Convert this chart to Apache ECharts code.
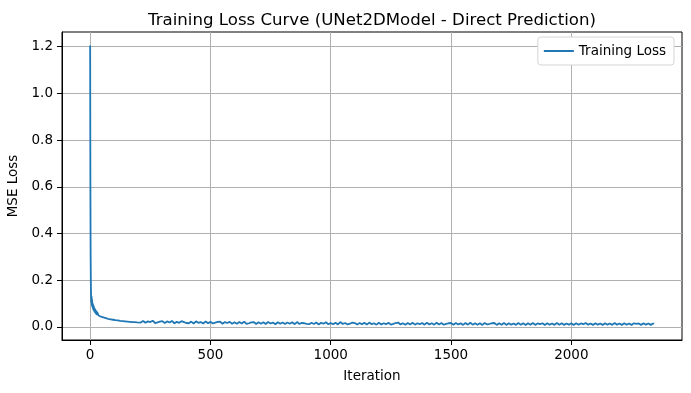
<!DOCTYPE html>
<html>
<head>
<meta charset="utf-8">
<script src="https://cdn.jsdelivr.net/npm/echarts@6/dist/echarts.min.js"></script>
<style>html,body{margin:0;padding:0;background:#fff;}#c{width:691px;height:393px;}</style>
</head>
<body>
<div id="c"></div>
<script>
// Loss values, in three segments with their iteration start/step
const earlyStart = 0, earlyStep = 1;
const lossEarly = [1.205,0.62,0.31,0.18,0.125,0.105,0.132,0.092,0.118,0.086,
  0.104,0.079,0.097,0.074,0.093,0.070,0.086,0.066,0.081,0.063,
  0.078,0.060,0.074,0.058,0.071,0.055,0.068,0.053,0.066,0.051];
const midStart = 30, midStep = 5;
const lossMid = [0.062,0.049,0.057,0.044,0.052,0.041,0.049,0.038,0.046,0.035,
  0.043,0.033,0.041,0.031,0.038,0.029,0.037,0.028,0.035,0.026,
  0.033,0.025,0.032,0.024,0.031,0.023,0.030,0.022,0.029,0.021,
  0.028,0.021,0.027,0.020,0.026];
const lateStart = 210, lateStep = 10;
const lossLate = [
  0.019,0.026,0.018,0.024,0.021,0.027,0.017,0.020,0.023,0.025,
  0.017,0.024,0.019,0.026,0.016,0.022,0.018,0.025,0.021,0.017,
  0.016,0.023,0.015,0.024,0.018,0.021,0.015,0.024,0.016,0.022,
  0.015,0.019,0.022,0.023,0.014,0.021,0.017,0.022,0.014,0.020,
  0.014,0.021,0.015,0.023,0.013,0.016,0.020,0.021,0.013,0.020,
  0.014,0.020,0.013,0.021,0.015,0.019,0.012,0.020,0.014,0.019,
  0.013,0.019,0.014,0.020,0.012,0.021,0.013,0.018,0.016,0.013,
  0.012,0.018,0.013,0.019,0.011,0.018,0.014,0.020,0.012,0.017,
  0.012,0.018,0.011,0.021,0.013,0.017,0.011,0.014,0.019,0.017,
  0.011,0.017,0.012,0.018,0.010,0.019,0.012,0.016,0.010,0.018,
  0.011,0.016,0.012,0.018,0.010,0.013,0.017,0.019,0.011,0.016,
  0.010,0.017,0.011,0.018,0.010,0.016,0.012,0.017,0.010,0.018,
  0.011,0.016,0.010,0.018,0.011,0.017,0.010,0.013,0.016,0.017,
  0.010,0.017,0.011,0.016,0.009,0.017,0.010,0.018,0.010,0.016,
  0.010,0.016,0.009,0.017,0.011,0.013,0.016,0.017,0.009,0.016,
  0.010,0.017,0.009,0.016,0.010,0.015,0.009,0.017,0.010,0.016,
  0.009,0.016,0.010,0.017,0.009,0.015,0.012,0.016,0.009,0.016,
  0.010,0.015,0.009,0.017,0.010,0.016,0.009,0.015,0.010,0.016,
  0.009,0.016,0.010,0.015,0.012,0.017,0.010,0.015,0.009,0.016,
  0.010,0.015,0.009,0.016,0.010,0.015,0.009,0.017,0.010,0.015,
  0.009,0.016,0.010,0.015,0.009,0.016,0.013,0.015,0.009,0.016,
  0.010,0.015,0.009,0.015];
const lastIter = 2343, lastLoss = 0.012;

const xTicks = [0, 500, 1000, 1500, 2000];
const yTicks = [0.0, 0.2, 0.4, 0.6, 0.8, 1.0, 1.2];
const xRange = [-117, 2460];
const yRange = [-0.0557, 1.263];

const data = [];
lossEarly.forEach((v, i) => data.push([earlyStart + i * earlyStep, v]));
lossMid.forEach((v, i) => data.push([midStart + i * midStep, v]));
lossLate.forEach((v, i) => data.push([lateStart + i * lateStep, v]));
data.push([lastIter, lastLoss]);

const FONT = 'DejaVu Sans';
const chart = echarts.init(document.getElementById('c'), null, {renderer: 'canvas'});
chart.setOption({
  animation: false,
  backgroundColor: '#fff',
  title: {
    text: 'Training Loss Curve (UNet2DModel - Direct Prediction)',
    left: 367, textAlign: 'center', top: 7,
    textStyle: {fontFamily: FONT, fontSize: 16.6, fontWeight: 'normal', color: '#000'}
  },
  legend: {
    right: 17, top: 37,
    data: [{name: 'Training Loss', icon: 'rect'}],
    itemWidth: 30, itemHeight: 2, itemGap: 10,
    padding: [7, 8, 7, 6],
    backgroundColor: '#fff',
    borderColor: '#d5d5d5', borderWidth: 1, borderRadius: 3,
    textStyle: {fontFamily: FONT, fontSize: 13.5, color: '#000'}
  },
  grid: {left: 62, right: 9, top: 32, bottom: 53, containLabel: false,
         outerBoundsMode: 'none',
         show: true, borderColor: '#000', borderWidth: 1},
  xAxis: {
    type: 'value', min: xRange[0], max: xRange[1],
    name: 'Iteration', nameLocation: 'middle', nameGap: 29,
    nameTextStyle: {fontFamily: FONT, fontSize: 13.5, color: '#000'},
    axisLine: {show: true, onZero: false, lineStyle: {color: '#000', width: 1}},
    axisTick: {show: true, inside: false, length: 5, lineStyle: {color: '#000'}, customValues: xTicks},
    axisLabel: {fontFamily: FONT, fontSize: 13.5, color: '#000', margin: 8,
                customValues: xTicks, formatter: v => String(v)},
    splitLine: {show: true, lineStyle: {color: '#b0b0b0', width: 1}}
  },
  yAxis: {
    type: 'value', min: yRange[0], max: yRange[1],
    name: 'MSE Loss', nameLocation: 'middle', nameGap: 40,
    nameTextStyle: {fontFamily: FONT, fontSize: 13.5, color: '#000'},
    axisLine: {show: true, onZero: false, lineStyle: {color: '#000', width: 1}},
    axisTick: {show: true, inside: false, length: 5, lineStyle: {color: '#000'}, customValues: yTicks},
    axisLabel: {fontFamily: FONT, fontSize: 13.5, color: '#000', margin: 9,
                customValues: yTicks, formatter: v => v.toFixed(1)},
    splitLine: {show: true, lineStyle: {color: '#b0b0b0', width: 1}}
  },
  series: [{
    name: 'Training Loss', type: 'line', data: data,
    symbol: 'none', showSymbol: false,
    lineStyle: {color: '#1f77b4', width: 1.8},
    itemStyle: {color: '#1f77b4'}
  }]
});
</script>
</body>
</html>
